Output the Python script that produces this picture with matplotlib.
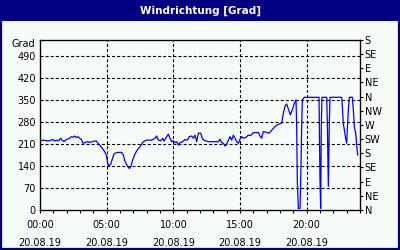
import matplotlib
matplotlib.use('Agg')
import matplotlib.pyplot as plt
from matplotlib.patches import Rectangle

# Wind direction readings (hour of day, degrees)
hours = [0.05, 0.225, 0.475, 0.725, 0.975, 1.1, 1.225, 1.4, 1.55, 1.65, 1.8, 1.975,
         2.225, 2.35, 2.475, 2.6, 2.725, 2.85, 2.975, 3.1, 3.225, 3.35, 3.55, 3.725,
         3.9, 4.1, 4.225, 4.35, 4.55, 4.725, 4.85, 4.975, 5.05, 5.125, 5.3, 5.4,
         5.55, 5.725, 5.85, 6.125, 6.25, 6.375, 6.55, 6.7, 6.8, 6.95, 7.125, 7.3,
         7.5, 7.75, 8.0, 8.375, 8.625, 8.75, 8.875, 9.05, 9.2, 9.3, 9.5, 9.625,
         9.75, 9.875, 10.0, 10.125, 10.25, 10.375, 10.5, 10.7, 10.875, 11.05, 11.2, 11.375,
         11.5, 11.625, 11.75, 11.875, 12.05, 12.2, 12.375, 12.625, 13.0, 13.375, 13.5, 13.625,
         13.75, 13.875, 14.0, 14.125, 14.25, 14.375, 14.5, 14.625, 14.75, 14.875, 15.0, 15.125,
         15.25, 15.45, 15.625, 15.8, 15.95, 16.125, 16.375, 16.5, 16.625, 16.75, 16.95, 17.175,
         17.5, 17.75, 18.05, 18.125, 18.25, 18.375, 18.5, 18.675, 18.775, 18.925, 19.075, 19.2,
         19.25, 19.3, 19.375, 19.5, 19.55, 19.625, 19.675, 19.825, 20.925, 20.95, 21.0, 21.05,
         21.1, 21.15, 21.5, 21.55, 21.625, 21.7, 21.75, 22.625, 22.675, 22.75, 22.825, 22.9,
         23.0, 23.075, 23.125, 23.2, 23.425, 23.5, 23.575, 23.675, 23.75, 23.825]
degrees = [219, 222, 220, 220, 224, 219, 222, 220, 228, 222, 217, 224,
           228, 233, 231, 235, 230, 233, 228, 224, 212, 214, 217, 215,
           217, 219, 219, 212, 203, 193, 185, 175, 155, 140, 145, 159,
           178, 182, 183, 183, 175, 154, 140, 132, 136, 159, 178, 191,
           201, 217, 222, 222, 228, 235, 222, 220, 228, 219, 233, 241,
           228, 217, 220, 214, 217, 206, 214, 217, 224, 222, 233, 235,
           228, 238, 217, 244, 244, 225, 220, 217, 217, 217, 225, 214,
           212, 203, 210, 222, 233, 222, 238, 228, 217, 212, 225, 233,
           228, 231, 238, 236, 244, 246, 246, 235, 228, 249, 247, 244,
           259, 270, 275, 276, 307, 330, 337, 315, 302, 318, 339, 350,
           265, 90, 5, 5, 90, 265, 350, 358, 358, 275, 95, 5,
           275, 358, 358, 280, 75, 280, 358, 358, 328, 275, 254, 233,
           212, 275, 318, 358, 358, 318, 264, 244, 206, 175]

time_ticks = [0, 5, 10, 15, 20]
time_labels = ['00:00\n20.08.19', '05:00\n20.08.19', '10:00\n20.08.19',
               '15:00\n20.08.19', '20:00\n20.08.19']
deg_ticks = [0, 70, 140, 210, 280, 350, 420, 490]
compass_ticks = list(range(0, 541, 45))
compass_labels = ['N', 'NE', 'E', 'SE', 'S', 'SW', 'W', 'NW', 'N', 'NE', 'E', 'SE', 'S']

navy = '#000080'
bg = '#f8fcf8'

fig = plt.figure(figsize=(4, 2.5), dpi=100, facecolor=bg)

# title bar and frame
fig.patches.append(Rectangle((0, 1 - 21 / 250), 1, 21 / 250, transform=fig.transFigure,
                             facecolor=navy, edgecolor='none', zorder=0))
fig.patches.append(Rectangle((0.002, 0.003), 0.996, 0.994, transform=fig.transFigure,
                             facecolor='none', edgecolor=navy, linewidth=1.6, zorder=5))
fig.text(0.5, 1 - 10.5 / 250, 'Windrichtung [Grad]', color='white', fontsize=7.5,
         fontweight='bold', ha='center', va='center')

ax = fig.add_axes([0.1, 0.16, 0.8, 0.68])
ax.set_facecolor(bg)
ax.plot(hours, degrees, color='#0000ff', linewidth=0.9, zorder=3)

ax.set_xlim(0, 24)
ax.set_ylim(0, 540)
ax.set_xticks(time_ticks)
ax.set_xticklabels(time_labels, fontsize=7, linespacing=2.0)
ax.set_xticks(range(0, 25), minor=True)
ax.set_yticks(deg_ticks)
ax.set_yticklabels([str(v) for v in deg_ticks], fontsize=7)
ax.tick_params(axis='x', which='both', direction='out', length=2.2, width=0.8, pad=5)
ax.tick_params(axis='y', length=0, pad=3)
for s in ax.spines.values():
    s.set_linewidth(0.9)

dash = (0, (2.7, 1.9))
for v in deg_ticks[1:]:
    ax.axhline(v, color='black', linewidth=0.8, linestyle=dash, zorder=1)
for t in time_ticks[1:]:
    ax.axvline(t, color='black', linewidth=0.8, linestyle=dash, zorder=1)

ax.text(-0.015, 527, 'Grad', fontsize=7, ha='right', va='center',
        transform=ax.get_yaxis_transform())

ax2 = ax.twinx()
ax2.set_ylim(0, 540)
ax2.set_yticks(compass_ticks)
ax2.set_yticklabels(compass_labels, fontsize=7)
ax2.tick_params(axis='y', direction='out', length=2.5, width=0.8, pad=1)

fig.savefig('out.png', dpi=100, facecolor=bg)
